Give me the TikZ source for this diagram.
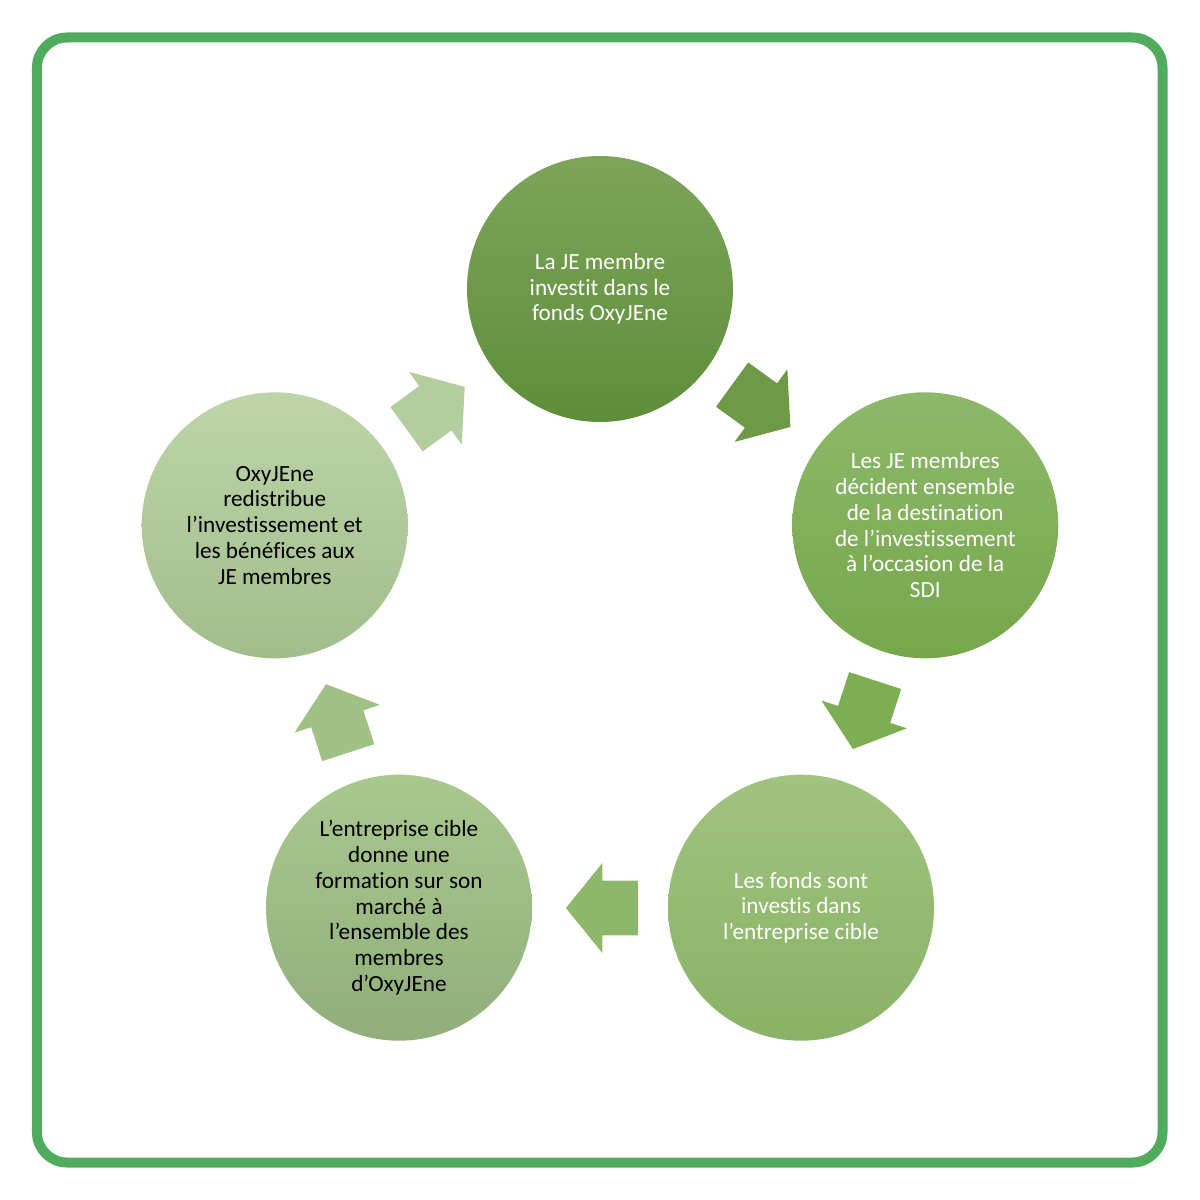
\documentclass[tikz,border=0pt]{standalone}
\usepackage{fontspec}
\setmainfont{Carlito}[Ligatures=NoCommon]
\usetikzlibrary{shapes.arrows}

\definecolor{cadre}{RGB}{80,172,92}
\definecolor{haut1}{HTML}{7DA55A}\definecolor{bas1}{HTML}{5E8D3A}\definecolor{fleche1}{HTML}{6E9A48}
\definecolor{haut2}{HTML}{8DB86A}\definecolor{bas2}{HTML}{76A74B}\definecolor{fleche2}{HTML}{7DAE52}
\definecolor{haut3}{HTML}{A0C37F}\definecolor{bas3}{HTML}{89B266}\definecolor{fleche3}{HTML}{8DB86B}
\definecolor{haut4}{HTML}{A9C88E}\definecolor{bas4}{HTML}{91AE7B}\definecolor{fleche4}{HTML}{9FC284}
\definecolor{haut5}{HTML}{BDD5A9}\definecolor{bas5}{HTML}{A2BD8C}\definecolor{fleche5}{HTML}{B2CD9E}

\newcommand{\etapesoxyjene}{%
        {La JE membre\\investit dans le\\fonds OxyJEne}/white,
        {Les JE membres\\décident ensemble\\de la destination\\de l’investissement\\à l’occasion de la\\SDI}/white,
        {Les fonds sont\\investis dans\\l’entreprise cible}/white,
        {L’entreprise cible\\donne une\\formation sur son\\marché à\\l’ensemble des\\membres\\d’OxyJEne}/black,
        {OxyJEne\\redistribue\\l’investissement et\\les bénéfices aux\\JE membres}/black%
    }

\begin{document}
\begin{tikzpicture}[x=0.5pt,y=0.5pt,
        etapebox/.style={circle, minimum size=133pt, inner sep=0pt, align=center,
            font=\fontsize{11.6}{12.9}\selectfont},
        flechebox/.style={single arrow, draw=none, inner xsep=0pt, inner ysep=13.5pt,
            minimum height=36pt, single arrow head extend=8.75pt,
            single arrow tip angle=102}]
        \useasboundingbox (-600,-569) rectangle (600,631);
        % Frame
        \draw[cadre, line width=5pt, rounded corners=15pt] (-563,-531.5) rectangle (562.5,593.5);
        % Draw circles (steps)
        \foreach [count=\i] \txt/\fg in \etapesoxyjene{
            \node[etapebox, top color=haut\i, bottom color=bas\i, text=\fg]
                (etape\i) at ({90-(\i-1)*72}:171pt) {\txt};
        }
        % Draw block arrows between the steps
        \foreach \i in {1,...,5}{
            \node[flechebox, fill=fleche\i, rotate={-(\i-1)*72-36}, xshift=-6.5pt]
                (fleche\i) at ({54-(\i-1)*72}:138.5pt) {};
        }
    \end{tikzpicture}
\end{document}
